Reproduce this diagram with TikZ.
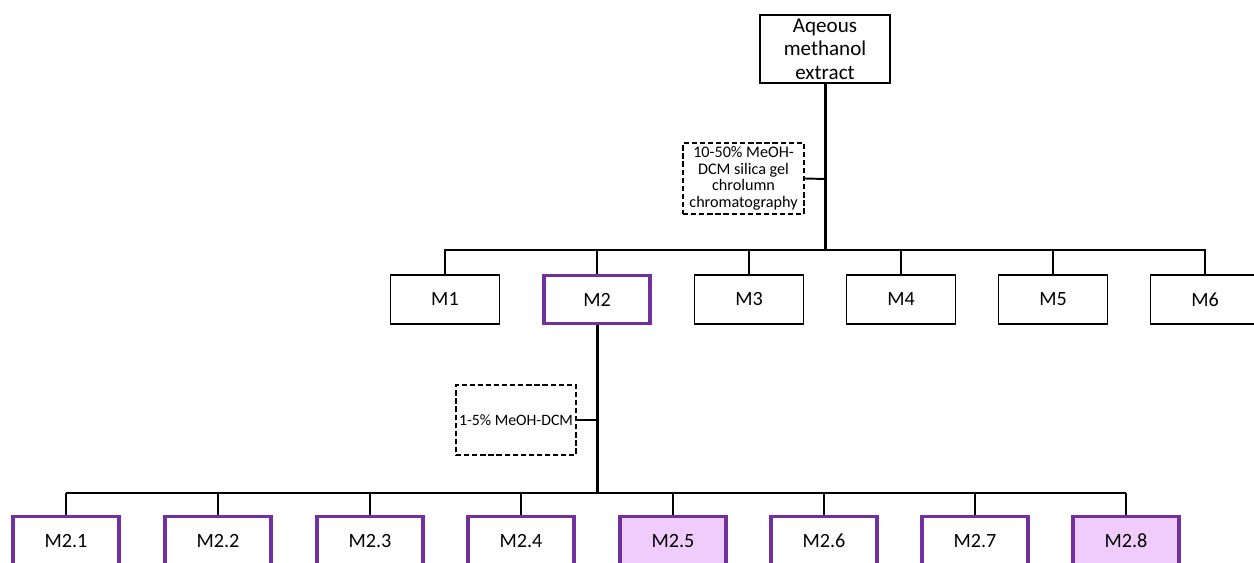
\documentclass[tikz,border=0pt]{standalone}
\usepackage{fontspec}
\setmainfont{Carlito}
\definecolor{mpurple}{RGB}{112,48,160}
\definecolor{mpink}{RGB}{240,204,252}
\begin{document}
\begin{tikzpicture}[x=0.02cm,y=-0.02cm,
  boxb/.style={draw=black,line width=1.1pt,fill=white,minimum width=2.18cm,minimum height=0.98cm,inner sep=0pt,font=\fontsize{11.5}{13}\selectfont},
  boxp/.style={draw=mpurple,line width=2.2pt,fill=white,minimum width=2.12cm,minimum height=0.98cm,inner sep=0pt,font=\fontsize{11.5}{13}\selectfont},
  boxpf/.style={boxp,fill=mpink},
  dbox/.style={draw=black,dash pattern=on 3pt off 1.6pt,line width=1.1pt,inner sep=0pt,align=center},
  trunk/.style={line width=1.7pt},
  conn/.style={line width=1.1pt},
  drop/.style={line width=1pt}]
\clip (0,0) rectangle (1254,563);
\useasboundingbox (0,0) rectangle (1254,563);
% top
\node[draw=black,line width=1.1pt,minimum width=2.6cm,minimum height=1.36cm,inner sep=0pt,align=center,font=\fontsize{12}{13.4}\selectfont] (top) at (825,49) {Aqeous\\methanol\\extract};
\coordinate (j1) at (825,250);
\coordinate (k1) at (825,179);
\node[dbox,minimum width=2.42cm,minimum height=1.42cm,font=\fontsize{9.2}{9.4}\selectfont] (d1) at (743.5,178.5) {10-50\% MeOH-\\DCM silica gel\\chrolumn\\chromatography};
\draw[trunk] (top.south) -- (j1);
\draw[conn] (d1.east) -- (k1);
% level 1
\node[boxb] (M1) at (445,299.5) {M1};
\node[boxp,minimum width=2.12cm,minimum height=0.96cm] (M2) at (597,299.5) {M2};
\node[boxb] (M3) at (749,299.5) {M3};
\node[boxb] (M4) at (901,299.5) {M4};
\node[boxb] (M5) at (1053,299.5) {M5};
\node[boxb] (M6) at (1205,299.5) {M6};
\foreach \n in {M1,M2,M3,M4,M5,M6}{\draw[conn] (j1) -| (\n.north);}
% level 2
\coordinate (j2) at (597,493);
\coordinate (k2) at (597,420);
\node[dbox,minimum width=2.4cm,minimum height=1.4cm,font=\fontsize{9}{11}\selectfont] (d2) at (516,420) {1-5\% MeOH-DCM};
\draw[trunk] (M2.south) -- (j2);
\draw[conn] (d2.east) -- (k2);
\node[boxp] (A1) at (66,541) {M2.1};
\node[boxp] (A2) at (218,541) {M2.2};
\node[boxp] (A3) at (370,541) {M2.3};
\node[boxp] (A4) at (521,541) {M2.4};
\node[boxpf] (A5) at (673,541) {M2.5};
\node[boxp] (A6) at (824,541) {M2.6};
\node[boxp] (A7) at (975,541) {M2.7};
\node[boxpf] (A8) at (1126,541) {M2.8};
\draw[conn] (A1.north |- j2) -- (A8.north |- j2);
\foreach \n in {A1,A2,A3,A4,A5,A6,A7,A8}{\draw[drop] (\n.north |- j2) -- (\n.north);}
\end{tikzpicture}
\end{document}
